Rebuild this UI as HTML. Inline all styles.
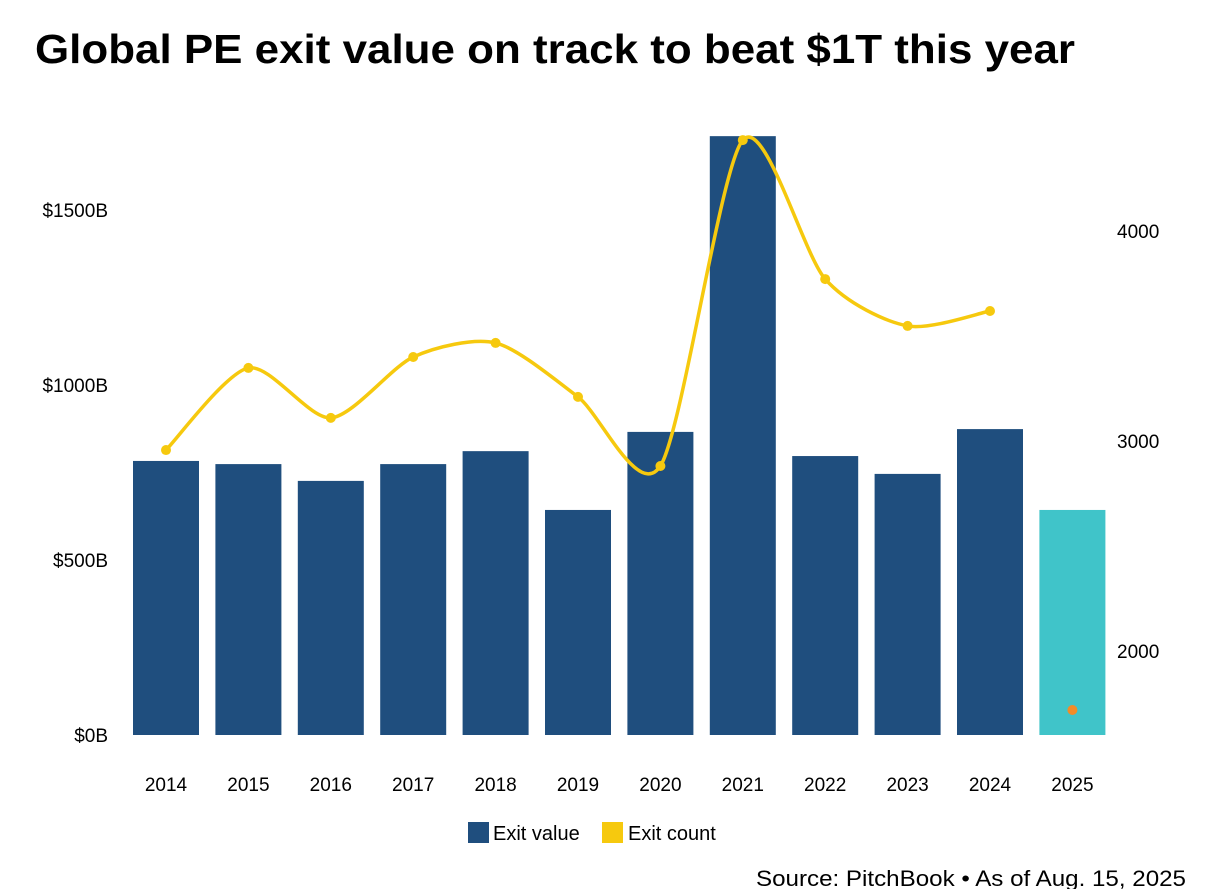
<!DOCTYPE html>
<html><head><meta charset="utf-8"><style>
body{margin:0;background:#fff;}
svg text{font-family:"Liberation Sans",sans-serif;}
</style></head><body>
<svg id="c" width="1216" height="889" viewBox="0 0 1216 889">
<text x="35" y="63" font-size="41" font-weight="bold" fill="#000" textLength="1040" lengthAdjust="spacingAndGlyphs">Global PE exit value on track to beat $1T this year</text>
<g id="left-ticks"></g><g id="right-ticks"></g><g id="bars"></g><g id="xlabels"></g><g id="line"></g>
<g>
<rect x="468" y="822" width="21" height="21" fill="#1f4e7e"/>
<text x="493" y="840" font-size="20" fill="#000">Exit value</text>
<rect x="602" y="822" width="21" height="21" fill="#f6c90e"/>
<text x="628" y="840" font-size="20" fill="#000">Exit count</text>
</g>
<text x="756" y="886" font-size="22" fill="#000" textLength="430" lengthAdjust="spacingAndGlyphs">Source: PitchBook • As of Aug. 15, 2025</text>
</svg>
<script>
const years=["2014","2015","2016","2017","2018","2019","2020","2021","2022","2023","2024","2025"];
const exitValue=[783,774,726,774,811,643,866,1711,797,746,874,643];
const exitCount=[2957,3348,3110,3400,3467,3210,2881,4433,3771,3548,3619];
const count2025=1719;
const leftTicks=[0,500,1000,1500];
const leftTickLabels=["$0B","$500B","$1000B","$1500B"];
const rightTicks=[2000,3000,4000];
const NS="http://www.w3.org/2000/svg";
function yL(v){return 735-v*0.35;}
function yR(v){return 441-(v-3000)*0.21;}
function xC(i){return 166+i*82.4;}
function mk(t,a,p){const e=document.createElementNS(NS,t);for(const k in a)e.setAttribute(k,a[k]);p.appendChild(e);return e;}
const lt=document.getElementById('left-ticks');
leftTicks.forEach((v,i)=>{const t=mk('text',{x:108,y:yL(v)+7,'font-size':19,'text-anchor':'end',fill:'#000'},lt);t.textContent=leftTickLabels[i];

});
const rt=document.getElementById('right-ticks');
rightTicks.forEach(v=>{const t=mk('text',{x:1117,y:yR(v)+7,'font-size':19,fill:'#000'},rt);t.textContent=String(v);

});
const bg=document.getElementById('bars'),xl=document.getElementById('xlabels');
years.forEach((y,i)=>{const r=mk('rect',{x:xC(i)-33,y:yL(exitValue[i]),width:66,height:735-yL(exitValue[i]),fill:i==11?'#40c4c9':'#1f4e7e'},bg);


const t=mk('text',{x:xC(i),y:791,'font-size':19,'text-anchor':'middle',fill:'#000'},xl);t.textContent=y;

});
const lg=document.getElementById('line');
const pts=exitCount.map((v,i)=>[xC(i),yR(v)]);
let d='M'+pts[0][0]+','+pts[0][1];
const k=7.5;
for(let i=0;i<pts.length-1;i++){const p0=pts[Math.max(0,i-1)],p1=pts[i],p2=pts[i+1],p3=pts[Math.min(pts.length-1,i+2)];
const c1=[p1[0]+(p2[0]-p0[0])/k,p1[1]+(p2[1]-p0[1])/k],c2=[p2[0]-(p3[0]-p1[0])/k,p2[1]-(p3[1]-p1[1])/k];
d+=' C'+c1+' '+c2+' '+p2;}
const pa=mk('path',{d:d,fill:'none',stroke:'#f6c90e','stroke-width':3.5},lg);


pts.forEach((p,i)=>{const c=mk('circle',{cx:p[0],cy:p[1],r:5,fill:'#f6c90e'},lg);

});
const o=mk('circle',{cx:xC(11),cy:yR(count2025),r:5,fill:'#f28c28'},lg);


</script>
</body></html>
